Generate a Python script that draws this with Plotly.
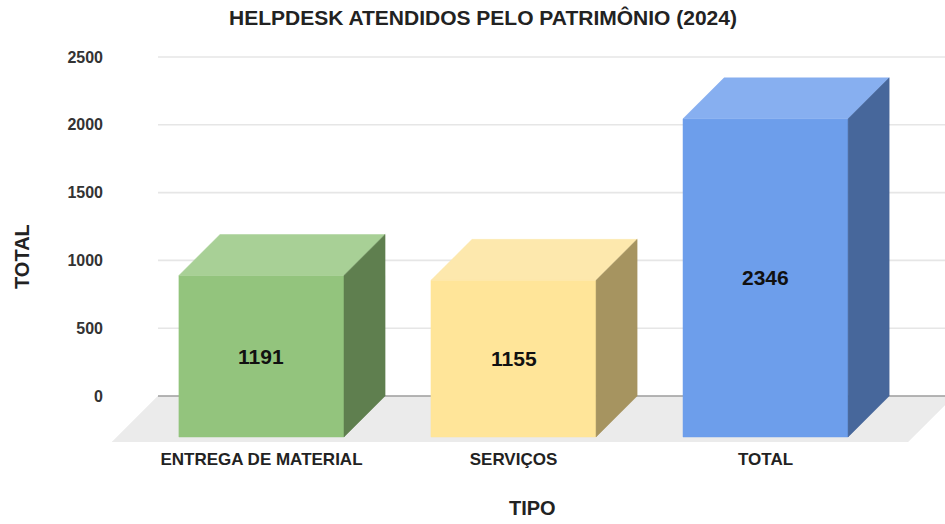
import plotly.graph_objects as go

# ---- data ----
categories = ["ENTREGA DE MATERIAL", "SERVIÇOS", "TOTAL"]
values = [1191, 1155, 2346]
y_ticks = [0, 500, 1000, 1500, 2000, 2500]

# ---- styling ----
front_colors = ["#93c47d", "#ffe599", "#6d9eeb"]
top_colors = ["#a8d096", "#fde8ad", "#87aff0"]
side_colors = ["#5f7f4f", "#a69460", "#47679b"]
FONT = "Arial, Liberation Sans, sans-serif"

# pseudo-3D geometry (x in category units, y in value units of the back wall)
bar_w = 0.655        # width of the front face
depth_x = 0.163      # horizontal offset of the back face
depth_y = 302        # vertical offset of the back face
floor_x0, floor_x1 = -0.593, 2.565
floor_dx, floor_dy = 0.1825, 339
x_range = [-0.593, 2.712]
y_range = [-339, 2625]

fig = go.Figure()


def poly(xs, ys, color):
    fig.add_trace(go.Scatter(
        x=xs + [xs[0]], y=ys + [ys[0]], mode="lines", fill="toself",
        fillcolor=color, line=dict(width=0.5, color=color),
        hoverinfo="skip", showlegend=False))


# floor
poly([floor_x0, floor_x1, floor_x1 + floor_dx, floor_x0 + floor_dx],
     [-floor_dy, -floor_dy, 0, 0], "#ebebeb")

# back-wall grid lines and baseline
grid_x = [floor_x0 + floor_dx, x_range[1] + 0.2]
for t in y_ticks:
    fig.add_trace(go.Scatter(
        x=grid_x, y=[t, t], mode="lines",
        line=dict(color="#9e9e9e" if t == 0 else "#e6e6e6", width=1.6),
        hoverinfo="skip", showlegend=False))

# bars: front, top and side faces
for i, v in enumerate(values):
    xl, xr = i - bar_w / 2, i + bar_w / 2
    poly([xl, xr, xr, xl], [-depth_y, -depth_y, v - depth_y, v - depth_y],
         front_colors[i])
    poly([xl, xr, xr + depth_x, xl + depth_x],
         [v - depth_y, v - depth_y, v, v], top_colors[i])
    poly([xr, xr + depth_x, xr + depth_x, xr],
         [-depth_y, 0, v, v - depth_y], side_colors[i])
    fig.add_annotation(x=i, y=v / 2 - depth_y, text="<b>%d</b>" % v,
                       showarrow=False,
                       font=dict(family=FONT, size=21, color="#111111"),
                       xanchor="center", yanchor="middle")

# titles
fig.add_annotation(text="<b>HELPDESK ATENDIDOS PELO PATRIMÔNIO (2024)</b>",
                   xref="paper", yref="paper", x=(483 - 112) / 833, y=1 + 22 / 402,
                   showarrow=False, xanchor="center", yanchor="middle",
                   font=dict(family=FONT, size=21, color="#222222"))
fig.add_annotation(text="<b>TIPO</b>", xref="paper", yref="paper",
                   x=(532 - 112) / 833, y=-66 / 402, showarrow=False,
                   xanchor="center", yanchor="middle",
                   font=dict(family=FONT, size=20, color="#222222"))
fig.add_annotation(text="<b>TOTAL</b>", xref="paper", yref="paper",
                   x=(22 - 112) / 833, y=(442 - 257) / 402, showarrow=False,
                   textangle=-90, xanchor="center", yanchor="middle",
                   font=dict(family=FONT, size=20, color="#222222"))

fig.update_layout(
    width=945, height=524,
    margin=dict(l=112, r=0, t=40, b=82),
    paper_bgcolor="white", plot_bgcolor="white",
    xaxis=dict(range=x_range, tickvals=list(range(len(categories))),
               ticktext=["<b>%s</b>" % c for c in categories],
               showgrid=False, zeroline=False, showline=False, ticks="",
               ticklabelstandoff=5,
               tickfont=dict(family=FONT, size=17, color="#222222"),
               fixedrange=True),
    yaxis=dict(range=y_range, tickvals=y_ticks,
               ticktext=["<b>%d</b>" % t for t in y_ticks],
               showgrid=False, zeroline=False, showline=False, ticks="",
               ticklabelstandoff=8,
               tickfont=dict(family=FONT, size=16, color="#333333"),
               fixedrange=True),
)

fig.write_html("out.html")
